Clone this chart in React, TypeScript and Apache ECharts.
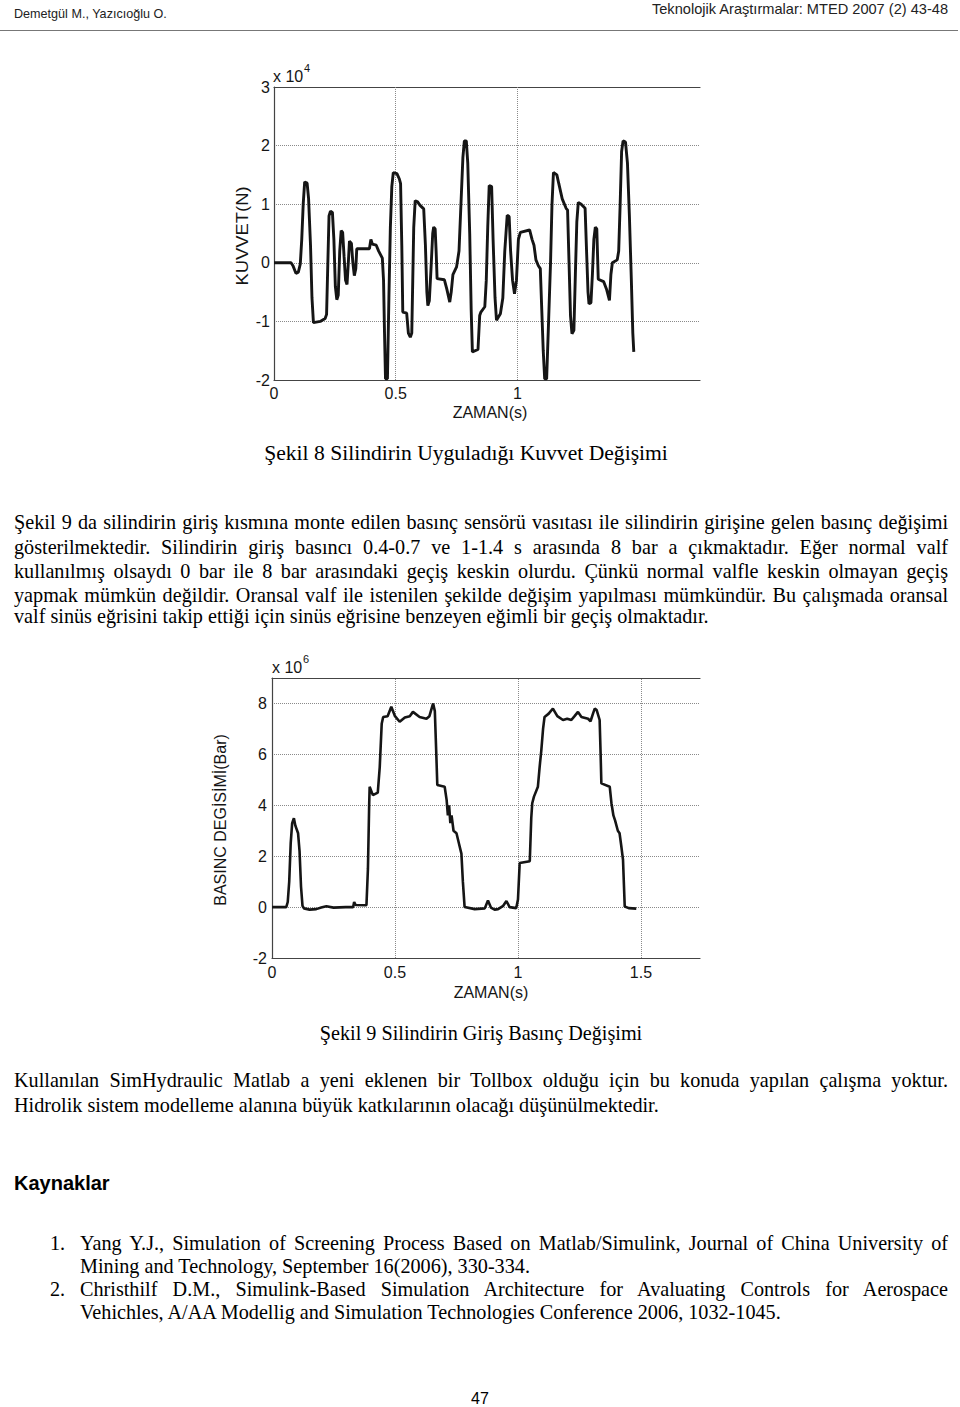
import React, { useEffect, useRef } from "react";
import * as echarts from "echarts";

// ---------- Figure 8: force (x 10^4 N) vs time (s) ----------
const forceTime = [
  0, 0.07, 0.078, 0.09, 0.1, 0.108, 0.114, 0.12, 0.126, 0.136, 0.142, 0.15, 0.156, 0.162, 0.19, 0.21, 0.216, 0.22,
  0.226, 0.232, 0.24, 0.246, 0.252, 0.258, 0.264, 0.27, 0.276, 0.282, 0.288, 0.294, 0.3, 0.306, 0.31, 0.318, 0.324,
  0.33, 0.336, 0.34, 0.392, 0.398, 0.404, 0.42, 0.43, 0.445, 0.45, 0.454, 0.458, 0.466, 0.472, 0.478, 0.484, 0.49,
  0.505, 0.515, 0.52, 0.525, 0.529, 0.545, 0.552, 0.56, 0.566, 0.57, 0.574, 0.58, 0.59, 0.6, 0.615, 0.622, 0.628,
  0.632, 0.638, 0.645, 0.652, 0.656, 0.662, 0.666, 0.67, 0.7, 0.71, 0.722, 0.728, 0.735, 0.75, 0.76, 0.768, 0.776,
  0.782, 0.79, 0.796, 0.804, 0.81, 0.815, 0.838, 0.845, 0.85, 0.866, 0.872, 0.878, 0.884, 0.894, 0.9, 0.908, 0.914,
  0.93, 0.94, 0.948, 0.958, 0.966, 0.972, 0.98, 0.988, 0.996, 1.004, 1.012, 1.05, 1.06, 1.068, 1.076, 1.086, 1.094,
  1.1, 1.106, 1.112, 1.12, 1.128, 1.136, 1.142, 1.148, 1.162, 1.17, 1.184, 1.2, 1.206, 1.212, 1.218, 1.224, 1.232,
  1.238, 1.244, 1.25, 1.262, 1.278, 1.284, 1.29, 1.294, 1.302, 1.308, 1.314, 1.32, 1.326, 1.332, 1.354, 1.366, 1.378,
  1.384, 1.39, 1.41, 1.416, 1.422, 1.428, 1.434, 1.444, 1.452, 1.46, 1.468, 1.474, 1.478,
];
const forceValue = [
  0, 0, -0.05, -0.18, -0.16, -0.02, 0.4, 1.0, 1.38, 1.36, 1.1, 0.3, -0.6, -1.02, -1.0, -0.95, -0.88, -0.2,
  0.8, 0.88, 0.86, 0.4, -0.4, -0.63, -0.55, 0.2, 0.55, 0.52, 0.1, -0.3, -0.37, 0.05, 0.37, 0.33, 0.0,
  -0.22, -0.1, 0.24, 0.24, 0.4, 0.32, 0.3, 0.2, 0.08, -0.3, -1.2, -1.98, -1.98, -0.6, 0.6, 1.3, 1.54,
  1.52, 1.43, 1.35, 0.3, -0.84, -0.86, -1.2, -1.27, -1.2, -0.3, 0.6, 1.06, 1.04, 0.98, 0.92, 0.3, -0.5,
  -0.73, -0.65, -0.1, 0.5, 0.61, 0.58, 0.2, -0.27, -0.29, -0.45, -0.67, -0.5, -0.2, -0.07, 0.2, 1.0, 1.8,
  2.08, 2.08, 1.7, 0.5, -0.8, -1.52, -1.48, -0.9, -0.84, -0.75, -0.3, 0.6, 1.32, 1.3, 0.4, -0.6, -0.98,
  -0.87, -0.6, 0.2, 0.81, 0.79, 0.2, -0.3, -0.53, -0.3, 0.4, 0.52, 0.56, 0.4, 0.3, 0.05, -0.05, -0.1,
  -0.8, -1.5, -1.98, -1.98, -1.0, 0.0, 1.0, 1.54, 1.5, 1.35, 1.09, 0.93, 0.9, 0.0, -0.9, -1.21, -1.15,
  -0.2, 0.7, 1.03, 1.0, 0.93, 0.2, -0.5, -0.7, -0.68, -0.2, 0.4, 0.61, 0.58, -0.28, -0.32, -0.45, -0.64,
  -0.2, 0.0, 0.05, 0.2, 1.0, 1.9, 2.08, 2.06, 1.7, 0.8, -0.3, -1.2, -1.52,
];
const forceXTicks = ["0", "0.5", "1"];

// ---------- Figure 9: pressure (x 10^6) vs time (s) ----------
const pressureTime = [
  0, 0.058, 0.064, 0.07, 0.076, 0.082, 0.089, 0.095, 0.106, 0.112, 0.118, 0.124, 0.13, 0.153, 0.18, 0.2, 0.221,
  0.25, 0.3, 0.33, 0.334, 0.34, 0.384, 0.39, 0.395, 0.397, 0.41, 0.43, 0.438, 0.446, 0.452, 0.47, 0.485, 0.5,
  0.519, 0.54, 0.56, 0.573, 0.6, 0.628, 0.64, 0.655, 0.662, 0.668, 0.672, 0.702, 0.71, 0.715, 0.72, 0.725, 0.73,
  0.738, 0.75, 0.76, 0.77, 0.776, 0.783, 0.824, 0.865, 0.878, 0.89, 0.905, 0.919, 0.94, 0.953, 0.966, 0.993, 1.0,
  1.007, 1.048, 1.054, 1.058, 1.065, 1.081, 1.088, 1.095, 1.102, 1.108, 1.125, 1.142, 1.16, 1.183, 1.2, 1.217,
  1.23, 1.244, 1.258, 1.285, 1.295, 1.305, 1.312, 1.32, 1.332, 1.336, 1.339, 1.373, 1.38, 1.388, 1.395, 1.406,
  1.413, 1.42, 1.427, 1.434, 1.45, 1.481,
];
const pressureValue = [
  0, 0, 0.2, 1.0, 2.5, 3.3, 3.49, 3.2, 2.9, 2.2, 0.8, 0.05, -0.05, -0.1, -0.08, -0.02, 0.03,
  -0.02, 0.0, 0.0, 0.2, 0.08, 0.07, 1.5, 4.0, 4.73, 4.4, 4.5, 5.5, 7.2, 7.47, 7.5, 7.87, 7.5,
  7.28, 7.45, 7.5, 7.67, 7.47, 7.4, 7.5, 8.0, 7.7, 6.0, 4.8, 4.73, 4.2, 3.6, 4.0, 3.3, 3.6,
  3.0, 2.9, 2.5, 2.1, 1.0, 0.0, -0.08, -0.05, 0.26, -0.02, -0.1, -0.08, 0.05, 0.24, 0.0, -0.04, 0.3,
  1.73, 1.8, 3.5, 4.08, 4.34, 4.73, 5.5, 6.17, 7.0, 7.47, 7.6, 7.8, 7.5, 7.35, 7.4, 7.35,
  7.5, 7.67, 7.47, 7.4, 7.3, 7.6, 7.8, 7.74, 7.35, 6.0, 4.86, 4.73, 4.08, 3.6, 3.4, 3.0,
  2.9, 2.4, 1.86, 0.02, -0.04, -0.06,
];
const pressureXTicks = ["0", "0.5", "1", "1.5"];

const SANS = "Liberation Sans, Arial, sans-serif";
const SERIF = "Liberation Serif, 'Times New Roman', serif";
const AXIS_COLOR = "#444";
const GRID_COLOR = "#8a8a8a";
const INK = "#151515";
const BODY_SIZE = 20.2;

function buildOption(cfg: {
  time: number[];
  value: number[];
  xTicks: string[];
  xMax: number;
  yMin: number;
  yMax: number;
  yInterval: number;
  grid: { left: number; top: number; width: number; height: number };
  exponent: string;
  expPos: [number, number];
  yName: string;
  yNamePos: [number, number];
  yNameScale: number;
  xNamePos: [number, number];
  lineWidth: number;
  yLabelMargin: number;
  xLabelMargin: number;
}) {
  const data = cfg.time.map((t, i) => [t, cfg.value[i]]);
  const axisLine = { show: true, onZero: false, lineStyle: { color: AXIS_COLOR, width: 1.2 } };
  const labelStyle = { fontSize: 16, color: INK, fontFamily: SANS };
  return {
    animation: false,
    grid: { ...cfg.grid, containLabel: false },
    xAxis: [
      {
        type: "value",
        min: 0,
        max: cfg.xMax,
        interval: 0.5,
        axisLine,
        axisTick: { show: false },
        splitLine: { show: false },
        axisLabel: {
          ...labelStyle,
          margin: cfg.xLabelMargin,
          showMaxLabel: false,
          formatter: (v: number) => (cfg.xTicks.includes(String(v)) ? String(v) : ""),
        },
      },
      {
        type: "value",
        position: "top",
        min: 0,
        max: cfg.xMax,
        axisLine,
        axisTick: { show: false },
        axisLabel: { show: false },
        splitLine: { show: false },
      },
    ],
    yAxis: {
      type: "value",
      min: cfg.yMin,
      max: cfg.yMax,
      interval: cfg.yInterval,
      axisLine,
      axisTick: { show: false },
      splitLine: { show: true, lineStyle: { type: "dotted", color: GRID_COLOR, width: 1 } },
      axisLabel: { ...labelStyle, margin: cfg.yLabelMargin, showMaxLabel: cfg.yMax % cfg.yInterval === 0 },
    },
    series: [
      {
        type: "line",
        data,
        xAxisIndex: 0,
        showSymbol: false,
        symbol: "none",
        lineStyle: { color: INK, width: cfg.lineWidth },
        z: 5,
        markLine: {
          silent: true,
          symbol: "none",
          label: { show: false },
          lineStyle: { type: "dotted", color: GRID_COLOR, width: 1 },
          data: cfg.xTicks.filter((t) => t !== "0").map((t) => ({ xAxis: Number(t) })),
          z: 1,
        },
      },
    ],
    graphic: [
      {
        type: "text",
        x: cfg.expPos[0],
        y: cfg.expPos[1],
        style: { text: "x 10", fontSize: 16, fill: INK, fontFamily: SANS, verticalAlign: "middle", align: "left" },
      },
      {
        type: "text",
        x: cfg.expPos[0] + 31,
        y: cfg.expPos[1] - 8,
        style: { text: cfg.exponent, fontSize: 11, fill: INK, fontFamily: SANS, verticalAlign: "middle", align: "left" },
      },
      {
        type: "text",
        x: cfg.yNamePos[0],
        y: cfg.yNamePos[1],
        rotation: Math.PI / 2,
        scaleX: cfg.yNameScale,
        style: { text: cfg.yName, fontSize: 16, fill: INK, fontFamily: SANS, verticalAlign: "middle", align: "center" },
      },
      {
        type: "text",
        x: cfg.xNamePos[0],
        y: cfg.xNamePos[1],
        style: { text: "ZAMAN(s)", fontSize: 16, fill: INK, fontFamily: SANS, verticalAlign: "middle", align: "center" },
      },
    ],
  };
}

function Chart(props: { left: number; top: number; width: number; height: number; option: any }) {
  const ref = useRef<HTMLDivElement>(null);
  useEffect(() => {
    if (!ref.current) return;
    const chart = echarts.init(ref.current, null, { renderer: "svg" });
    chart.setOption(props.option);
    return () => chart.dispose();
  }, []);
  return (
    <div
      ref={ref}
      style={{ position: "absolute", left: props.left, top: props.top, width: props.width, height: props.height }}
    />
  );
}

function Line(props: {
  y: number;
  left?: number;
  width?: number;
  justify?: boolean;
  center?: boolean;
  children: React.ReactNode;
  size?: number;
}) {
  const left = props.left ?? 14;
  const width = props.width ?? 934;
  const align = props.justify ? "justify" : props.center ? "center" : "left";
  return (
    <div
      style={{
        position: "absolute",
        left,
        top: props.y - 13,
        width,
        height: 26,
        lineHeight: "26px",
        fontSize: props.size ?? BODY_SIZE,
        fontFamily: SERIF,
        color: "#000",
        whiteSpace: props.justify ? "normal" : "nowrap",
        textAlign: align as any,
        textAlignLast: align as any,
      }}
    >
      {props.children}
    </div>
  );
}

export default function App() {
  const forceOption = buildOption({
    time: forceTime,
    value: forceValue,
    xTicks: forceXTicks,
    xMax: 1.75,
    yMin: -2,
    yMax: 3,
    yInterval: 1,
    grid: { left: 74, top: 37, width: 426, height: 293 },
    exponent: "4",
    expPos: [73, 26],
    yName: "KUVVET(N)",
    yNamePos: [42, 186],
    yNameScale: 1.15,
    xNamePos: [290, 362],
    lineWidth: 2.9,
    yLabelMargin: 4,
    xLabelMargin: 5,
  });
  const pressureOption = buildOption({
    time: pressureTime,
    value: pressureValue,
    xTicks: pressureXTicks,
    xMax: 1.74,
    yMin: -2,
    yMax: 9,
    yInterval: 2,
    grid: { left: 82, top: 38, width: 428, height: 280 },
    exponent: "6",
    expPos: [82, 27],
    yName: "BASINC DEGİSİMİ(Bar)",
    yNamePos: [30, 180],
    yNameScale: 1,
    xNamePos: [301, 352],
    lineWidth: 2.6,
    yLabelMargin: 5,
    xLabelMargin: 6,
  });

  return (
    <div style={{ position: "absolute", left: 0, top: 0, width: 960, height: 1407, background: "#fff", overflow: "hidden" }}>
      {/* header */}
      <div style={{ position: "absolute", left: 14, top: 5, fontFamily: SANS, fontSize: 12.6, color: "#222", lineHeight: "18px", whiteSpace: "nowrap" }}>
        Demetgül M., Yazıcıoğlu O.
      </div>
      <div
        style={{ position: "absolute", right: 12, top: 0, fontFamily: SANS, fontSize: 14.6, color: "#222", lineHeight: "18px", textAlign: "right", whiteSpace: "nowrap" }}
      >
        Teknolojik Araştırmalar: MTED 2007 (2) 43-48
      </div>
      <div style={{ position: "absolute", left: 0, top: 30, width: 958, height: 1, background: "#777" }} />

      <Chart left={200} top={50} width={520} height={380} option={forceOption} />

      <Line y={453} left={166} width={600} center size={21.6}>Şekil 8 Silindirin Uyguladığı Kuvvet Değişimi</Line>

      <Line y={522} justify>
        Şekil 9 da silindirin giriş kısmına monte edilen basınç sensörü vasıtası ile silindirin girişine gelen basınç değişimi
      </Line>
      <Line y={547} justify>
        gösterilmektedir. Silindirin giriş basıncı 0.4-0.7 ve 1-1.4 s arasında 8 bar a çıkmaktadır. Eğer normal valf
      </Line>
      <Line y={571} justify>
        kullanılmış olsaydı 0 bar ile 8 bar arasındaki geçiş keskin olurdu. Çünkü normal valfle keskin olmayan geçiş
      </Line>
      <Line y={595} justify>
        yapmak mümkün değildir. Oransal valf ile istenilen şekilde değişim yapılması mümkündür. Bu çalışmada oransal
      </Line>
      <Line y={616}>valf sinüs eğrisini takip ettiği için sinüs eğrisine benzeyen eğimli bir geçiş olmaktadır.</Line>

      <Chart left={190} top={640} width={530} height={370} option={pressureOption} />

      <Line y={1033} left={181} width={600} center>Şekil 9 Silindirin Giriş Basınç Değişimi</Line>

      <Line y={1080} justify>
        Kullanılan SimHydraulic Matlab a yeni eklenen bir Tollbox olduğu için bu konuda yapılan çalışma yoktur.
      </Line>
      <Line y={1105}>Hidrolik sistem modelleme alanına büyük katkılarının olacağı düşünülmektedir.</Line>

      <div style={{ position: "absolute", left: 14, top: 1171, fontFamily: SANS, fontSize: 20, fontWeight: "bold", lineHeight: "24px" }}>
        Kaynaklar
      </div>

      <Line y={1243} left={50} width={30}>1.</Line>
      <Line y={1243} left={80} width={868} justify>
        Yang Y.J., Simulation of Screening Process Based on Matlab/Simulink, Journal of China University of
      </Line>
      <Line y={1266} left={80} width={868}>Mining and Technology, September 16(2006), 330-334.</Line>
      <Line y={1289} left={50} width={30}>2.</Line>
      <Line y={1289} left={80} width={868} justify>
        Christhilf D.M., Simulink-Based Simulation Architecture for Avaluating Controls for Aerospace
      </Line>
      <Line y={1312} left={80} width={868}>Vehichles, A/AA Modellig and Simulation Technologies Conference 2006, 1032-1045.</Line>

      <div style={{ position: "absolute", left: 0, width: 960, top: 1389, textAlign: "center", fontFamily: SANS, fontSize: 16, lineHeight: "20px" }}>
        47
      </div>
    </div>
  );
}
